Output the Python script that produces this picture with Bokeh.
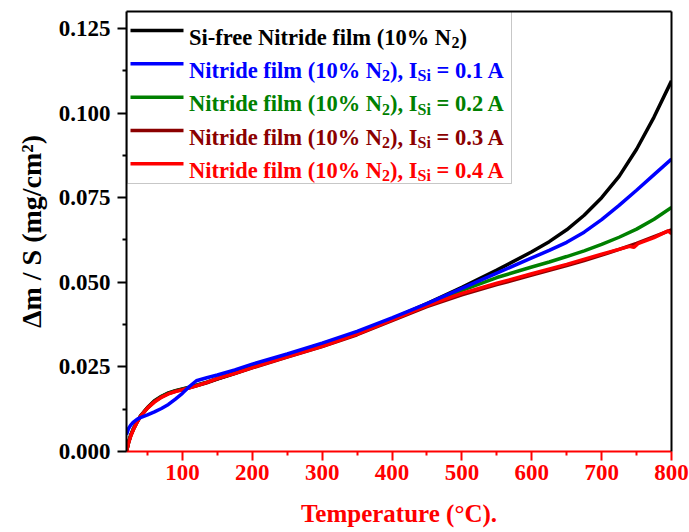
from bokeh.plotting import figure
from bokeh.models import (FixedTicker, NumeralTickFormatter, LinearAxis, Label,
                          BoxAnnotation, Range1d)
from bokeh.embed import file_html
from bokeh.resources import INLINE

# ---------------- data ----------------
temp = [20, 23, 26, 30, 35, 40, 50, 60, 70, 80, 90, 100, 110, 120, 135, 150, 175,
        200, 250, 300, 350, 400, 450, 500, 550, 600, 625, 650, 675, 700, 725, 750,
        775, 800]

si_free = [0.0000, 0.0028, 0.0048, 0.0068, 0.0088, 0.0105, 0.0130, 0.0150, 0.0163,
           0.0173, 0.0180, 0.0185, 0.0190, 0.0196, 0.0205, 0.0215, 0.0232, 0.0250,
           0.0282, 0.0314, 0.0350, 0.0392, 0.0437, 0.0485, 0.0536, 0.0590, 0.0620,
           0.0655, 0.0698, 0.0750, 0.0813, 0.0893, 0.0988, 0.1095]

isi_01 = [0.0050, 0.0068, 0.0078, 0.0087, 0.0095, 0.0100, 0.0108, 0.0117, 0.0127,
          0.0139, 0.0155, 0.0172, 0.0192, 0.0209, 0.0218, 0.0226, 0.0241, 0.0258,
          0.0288, 0.0320, 0.0355, 0.0395, 0.0437, 0.0482, 0.0527, 0.0572, 0.0594,
          0.0618, 0.0648, 0.0685, 0.0727, 0.0772, 0.0818, 0.0864]

isi_02 = [0.0000, 0.0028, 0.0048, 0.0067, 0.0087, 0.0104, 0.0129, 0.0148, 0.0162,
          0.0172, 0.0179, 0.0184, 0.0189, 0.0195, 0.0204, 0.0215, 0.0231, 0.0249,
          0.0281, 0.0313, 0.0349, 0.0391, 0.0434, 0.0476, 0.0514, 0.0545, 0.0560,
          0.0576, 0.0593, 0.0612, 0.0633, 0.0657, 0.0686, 0.0721]

isi_03 = [0.0000, 0.0026, 0.0046, 0.0066, 0.0086, 0.0104, 0.0129, 0.0148, 0.0161,
          0.0171, 0.0178, 0.0183, 0.0188, 0.0194, 0.0203, 0.0214, 0.0230, 0.0247,
          0.0279, 0.0310, 0.0345, 0.0387, 0.0428, 0.0463, 0.0493, 0.0521, 0.0535,
          0.0549, 0.0564, 0.0580, 0.0597, 0.0615, 0.0635, 0.0655]

temp_04 = [20, 23, 26, 30, 35, 40, 50, 60, 70, 80, 90, 100, 110, 120, 135, 150, 175,
           200, 250, 300, 350, 400, 450, 500, 550, 600, 650, 700, 740, 746, 752, 775,
           795, 800]
isi_04 = [0.0000, 0.0026, 0.0045, 0.0065, 0.0086, 0.0104, 0.0128, 0.0146, 0.0160,
          0.0170, 0.0177, 0.0182, 0.0188, 0.0194, 0.0204, 0.0216, 0.0231, 0.0248,
          0.0280, 0.0311, 0.0347, 0.0389, 0.0431, 0.0467, 0.0497, 0.0525, 0.0553,
          0.0583, 0.0606, 0.0603, 0.0614, 0.0632, 0.0652, 0.0644]

series_colors = ["#000000", "#0000FF", "#008000", "#8B0000", "#FF0000"]
legend_values = ["0.1", "0.2", "0.3", "0.4"]

x_ticks = [100, 200, 300, 400, 500, 600, 700, 800]
x_minor = [50, 150, 250, 350, 450, 550, 650, 750]
y_ticks = [0.0, 0.025, 0.05, 0.075, 0.1, 0.125]
y_minor = [0.0125, 0.0375, 0.0625, 0.0875, 0.1125]

x_title = "Temperature (°C)."
y_title = "Δm / S (mg/cm²)"

# ---------------- figure ----------------
X0, X1, Y0, Y1 = 20, 800, 0.0, 0.13
FL, FT, FW, FH = 126, 11, 545, 440   # frame left/top/width/height in px

FONT = "Liberation Serif"

p = figure(frame_width=FW, frame_height=FH, x_range=Range1d(X0, X1),
           y_range=Range1d(Y0, Y1), output_backend="svg", toolbar_location=None,
           min_border_left=FL, min_border_right=18, min_border_top=FT,
           min_border_bottom=81)
p.grid.visible = False
p.outline_line_color = None
p.background_fill_color = "white"
p.border_fill_color = "white"

# x axis (red)
xa = p.xaxis[0]
xa.ticker = FixedTicker(ticks=x_ticks, minor_ticks=x_minor)
xa.axis_label = x_title
for prop in ["axis_line_color", "major_tick_line_color", "minor_tick_line_color",
             "major_label_text_color", "axis_label_text_color"]:
    setattr(xa, prop, "#FF0000")
xa.axis_line_width = 2
xa.major_tick_line_width = 2
xa.minor_tick_line_width = 2
xa.major_tick_out = 9
xa.major_tick_in = 0
xa.minor_tick_out = 4
xa.minor_tick_in = 0
xa.major_label_text_font = FONT
xa.major_label_text_font_style = "bold"
xa.major_label_text_font_size = "23px"
xa.major_label_standoff = 4
xa.axis_label_text_font = FONT
xa.axis_label_text_font_style = "bold"
xa.axis_label_text_font_size = "25px"
xa.axis_label_standoff = 17

# y axis (black)
ya = p.yaxis[0]
ya.ticker = FixedTicker(ticks=y_ticks, minor_ticks=y_minor)
ya.formatter = NumeralTickFormatter(format="0.000")
ya.axis_label = y_title
for prop in ["axis_line_color", "major_tick_line_color", "minor_tick_line_color",
             "major_label_text_color", "axis_label_text_color"]:
    setattr(ya, prop, "#000000")
ya.axis_line_width = 2
ya.major_tick_line_width = 2
ya.minor_tick_line_width = 2
ya.major_tick_out = 9
ya.major_tick_in = 0
ya.minor_tick_out = 4
ya.minor_tick_in = 0
ya.major_label_text_font = FONT
ya.major_label_text_font_style = "bold"
ya.major_label_text_font_size = "23px"
ya.major_label_standoff = 7
ya.axis_label_text_font = FONT
ya.axis_label_text_font_style = "bold"
ya.axis_label_text_font_size = "28px"
ya.axis_label_standoff = 9

# plain black frame lines on the right and top
for side in ["right", "above"]:
    ax = LinearAxis(ticker=FixedTicker(ticks=[]), major_label_text_font_size="0px",
                    axis_line_color="black", axis_line_width=2,
                    major_tick_out=0, major_tick_in=0, minor_tick_out=0,
                    minor_tick_in=0)
    p.add_layout(ax, side)

# ---------------- curves ----------------
p.line(temp, si_free, line_color=series_colors[0], line_width=3.5)
p.line(temp, isi_02, line_color=series_colors[2], line_width=3.5)
p.line(temp, isi_03, line_color=series_colors[3], line_width=3.5)
p.line(temp_04, isi_04, line_color=series_colors[4], line_width=3.5)
p.line(temp, isi_01, line_color=series_colors[1], line_width=3.5)

# ---------------- helpers: px -> data ----------------
def xd(px):
    return X0 + (px - FL) * (X1 - X0) / FW

def yd(py):
    return Y0 + (FT + FH - py) * (Y1 - Y0) / FH

# ---------------- manual legend (with subscripts) ----------------
# Times-Bold advance widths (per 1000 em)
W = {" ": 250, "(": 333, ")": 333, ",": 250, "-": 333, ".": 250, "/": 278,
     "=": 570, "%": 1000, "A": 722, "I": 389, "N": 722, "S": 556, "a": 500,
     "d": 556, "e": 444, "f": 333, "i": 278, "l": 278, "m": 833, "r": 444,
     "t": 333}
for d in "0123456789":
    W[d] = 500

def tw(s, size):
    return sum(W.get(c, 500) for c in s) * size / 1000.0

MAIN, SUB = 22.5, 16
p.add_layout(BoxAnnotation(left=xd(127), right=xd(511), top=yd(11), bottom=yd(183),
                           fill_color="white", fill_alpha=1.0, line_color="#444444",
                           line_width=1, level="underlay"))

row_y = [30, 63.3, 96.7, 130, 163.3]
p.segment(x0=[xd(130)] * 5, x1=[xd(183)] * 5, y0=[yd(r) for r in row_y],
          y1=[yd(r) for r in row_y], line_color=series_colors, line_width=3.5)

rows = [[("Si-free Nitride film (10% N", MAIN, 0), ("2", SUB, 5.5), (")", MAIN, 0)]]
for v in legend_values:
    rows.append([("Nitride film (10% N", MAIN, 0), ("2", SUB, 5.5), ("), I", MAIN, 0),
                 ("Si", SUB, 5.5), (" = " + v + " A", MAIN, 0)])

for r, (pieces, col) in enumerate(zip(rows, series_colors)):
    x = 188.5
    base = row_y[r] + 6.5
    for txt, size, dy in pieces:
        lead = len(txt) - len(txt.lstrip(" "))
        shown = txt.lstrip(" ")
        p.add_layout(Label(x=xd(x + tw(" " * lead, size)), y=yd(base + dy),
                           text=shown, text_color=col,
                           text_font=FONT, text_font_style="bold",
                           text_font_size=f"{size}px", text_align="left",
                           text_baseline="alphabetic"))
        x += tw(txt, size)

open("out.html", "w").write(file_html(p, INLINE))
